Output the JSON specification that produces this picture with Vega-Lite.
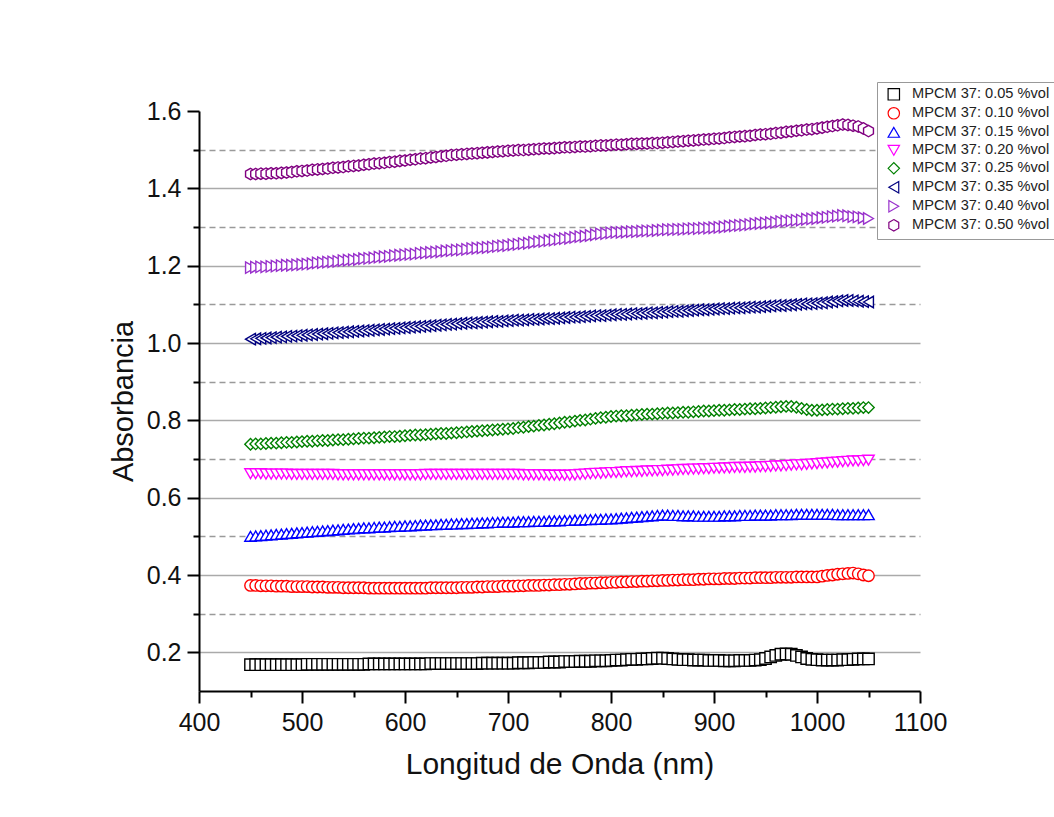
{
  "$schema": "https://vega.github.io/schema/vega-lite/v6.json",
  "width": 721,
  "height": 580,
  "autosize": {"type": "none"},
  "padding": {"left": 199, "top": 111, "right": 134, "bottom": 126},
  "background": "white",
  "config": {"view": {"stroke": null}, "font": "Liberation Sans"},
  "data": {"values": [
    {"x":450,"a":0.168,"b":0.373,"c":0.500,"d":0.662,"e":0.738,"f":1.010,"g":1.195,"h":1.437},
    {"x":455,"a":0.168,"b":0.373,"c":0.501,"d":0.662,"e":0.739,"f":1.011,"g":1.196,"h":1.437},
    {"x":460,"a":0.168,"b":0.372,"c":0.502,"d":0.662,"e":0.739,"f":1.012,"g":1.197,"h":1.438},
    {"x":465,"a":0.168,"b":0.372,"c":0.503,"d":0.661,"e":0.740,"f":1.013,"g":1.197,"h":1.438},
    {"x":470,"a":0.168,"b":0.372,"c":0.504,"d":0.661,"e":0.741,"f":1.014,"g":1.198,"h":1.439},
    {"x":475,"a":0.168,"b":0.371,"c":0.505,"d":0.661,"e":0.741,"f":1.015,"g":1.199,"h":1.439},
    {"x":480,"a":0.168,"b":0.371,"c":0.506,"d":0.661,"e":0.742,"f":1.016,"g":1.200,"h":1.440},
    {"x":485,"a":0.168,"b":0.371,"c":0.507,"d":0.661,"e":0.743,"f":1.017,"g":1.201,"h":1.441},
    {"x":490,"a":0.168,"b":0.370,"c":0.508,"d":0.660,"e":0.743,"f":1.018,"g":1.201,"h":1.442},
    {"x":495,"a":0.168,"b":0.370,"c":0.509,"d":0.660,"e":0.744,"f":1.019,"g":1.202,"h":1.444},
    {"x":500,"a":0.168,"b":0.370,"c":0.510,"d":0.660,"e":0.745,"f":1.020,"g":1.203,"h":1.445},
    {"x":505,"a":0.169,"b":0.370,"c":0.511,"d":0.660,"e":0.746,"f":1.021,"g":1.204,"h":1.446},
    {"x":510,"a":0.169,"b":0.369,"c":0.512,"d":0.660,"e":0.746,"f":1.022,"g":1.205,"h":1.448},
    {"x":515,"a":0.169,"b":0.369,"c":0.513,"d":0.660,"e":0.747,"f":1.023,"g":1.207,"h":1.449},
    {"x":520,"a":0.169,"b":0.369,"c":0.514,"d":0.660,"e":0.748,"f":1.024,"g":1.208,"h":1.450},
    {"x":525,"a":0.169,"b":0.368,"c":0.515,"d":0.660,"e":0.748,"f":1.025,"g":1.209,"h":1.451},
    {"x":530,"a":0.169,"b":0.368,"c":0.516,"d":0.660,"e":0.749,"f":1.026,"g":1.210,"h":1.453},
    {"x":535,"a":0.169,"b":0.368,"c":0.517,"d":0.659,"e":0.750,"f":1.027,"g":1.211,"h":1.454},
    {"x":540,"a":0.169,"b":0.367,"c":0.518,"d":0.659,"e":0.750,"f":1.028,"g":1.213,"h":1.455},
    {"x":545,"a":0.169,"b":0.367,"c":0.519,"d":0.659,"e":0.751,"f":1.029,"g":1.214,"h":1.457},
    {"x":550,"a":0.169,"b":0.367,"c":0.520,"d":0.659,"e":0.752,"f":1.030,"g":1.215,"h":1.458},
    {"x":555,"a":0.169,"b":0.367,"c":0.521,"d":0.659,"e":0.753,"f":1.031,"g":1.216,"h":1.459},
    {"x":560,"a":0.169,"b":0.367,"c":0.522,"d":0.659,"e":0.754,"f":1.032,"g":1.218,"h":1.461},
    {"x":565,"a":0.170,"b":0.366,"c":0.522,"d":0.659,"e":0.754,"f":1.033,"g":1.219,"h":1.462},
    {"x":570,"a":0.170,"b":0.366,"c":0.523,"d":0.659,"e":0.755,"f":1.034,"g":1.220,"h":1.464},
    {"x":575,"a":0.170,"b":0.366,"c":0.524,"d":0.659,"e":0.756,"f":1.035,"g":1.222,"h":1.465},
    {"x":580,"a":0.170,"b":0.366,"c":0.524,"d":0.659,"e":0.757,"f":1.036,"g":1.223,"h":1.466},
    {"x":585,"a":0.170,"b":0.366,"c":0.525,"d":0.659,"e":0.758,"f":1.037,"g":1.224,"h":1.468},
    {"x":590,"a":0.170,"b":0.366,"c":0.526,"d":0.659,"e":0.758,"f":1.038,"g":1.226,"h":1.469},
    {"x":595,"a":0.170,"b":0.366,"c":0.526,"d":0.659,"e":0.759,"f":1.039,"g":1.227,"h":1.471},
    {"x":600,"a":0.170,"b":0.366,"c":0.527,"d":0.659,"e":0.760,"f":1.040,"g":1.228,"h":1.472},
    {"x":605,"a":0.170,"b":0.366,"c":0.527,"d":0.659,"e":0.761,"f":1.041,"g":1.229,"h":1.474},
    {"x":610,"a":0.170,"b":0.366,"c":0.528,"d":0.659,"e":0.762,"f":1.042,"g":1.230,"h":1.475},
    {"x":615,"a":0.170,"b":0.366,"c":0.529,"d":0.659,"e":0.762,"f":1.043,"g":1.232,"h":1.477},
    {"x":620,"a":0.170,"b":0.366,"c":0.529,"d":0.660,"e":0.763,"f":1.044,"g":1.233,"h":1.478},
    {"x":625,"a":0.171,"b":0.367,"c":0.530,"d":0.660,"e":0.764,"f":1.045,"g":1.234,"h":1.480},
    {"x":630,"a":0.171,"b":0.367,"c":0.530,"d":0.660,"e":0.765,"f":1.046,"g":1.235,"h":1.481},
    {"x":635,"a":0.171,"b":0.367,"c":0.531,"d":0.660,"e":0.766,"f":1.047,"g":1.236,"h":1.483},
    {"x":640,"a":0.171,"b":0.367,"c":0.531,"d":0.660,"e":0.766,"f":1.048,"g":1.238,"h":1.484},
    {"x":645,"a":0.171,"b":0.367,"c":0.532,"d":0.660,"e":0.767,"f":1.049,"g":1.239,"h":1.486},
    {"x":650,"a":0.171,"b":0.367,"c":0.532,"d":0.660,"e":0.768,"f":1.050,"g":1.240,"h":1.487},
    {"x":655,"a":0.171,"b":0.368,"c":0.533,"d":0.660,"e":0.769,"f":1.051,"g":1.241,"h":1.488},
    {"x":660,"a":0.171,"b":0.368,"c":0.533,"d":0.660,"e":0.770,"f":1.052,"g":1.242,"h":1.489},
    {"x":665,"a":0.171,"b":0.368,"c":0.534,"d":0.660,"e":0.771,"f":1.052,"g":1.244,"h":1.490},
    {"x":670,"a":0.171,"b":0.369,"c":0.534,"d":0.660,"e":0.772,"f":1.053,"g":1.245,"h":1.491},
    {"x":675,"a":0.172,"b":0.369,"c":0.535,"d":0.660,"e":0.773,"f":1.054,"g":1.246,"h":1.492},
    {"x":680,"a":0.172,"b":0.370,"c":0.535,"d":0.660,"e":0.774,"f":1.055,"g":1.247,"h":1.493},
    {"x":685,"a":0.172,"b":0.370,"c":0.536,"d":0.660,"e":0.775,"f":1.056,"g":1.248,"h":1.494},
    {"x":690,"a":0.172,"b":0.370,"c":0.536,"d":0.660,"e":0.776,"f":1.056,"g":1.250,"h":1.495},
    {"x":695,"a":0.172,"b":0.371,"c":0.537,"d":0.660,"e":0.777,"f":1.057,"g":1.251,"h":1.496},
    {"x":700,"a":0.172,"b":0.371,"c":0.537,"d":0.660,"e":0.778,"f":1.058,"g":1.252,"h":1.497},
    {"x":705,"a":0.172,"b":0.371,"c":0.537,"d":0.660,"e":0.779,"f":1.059,"g":1.254,"h":1.498},
    {"x":710,"a":0.173,"b":0.372,"c":0.538,"d":0.660,"e":0.781,"f":1.059,"g":1.255,"h":1.499},
    {"x":715,"a":0.173,"b":0.372,"c":0.538,"d":0.659,"e":0.782,"f":1.060,"g":1.257,"h":1.499},
    {"x":720,"a":0.173,"b":0.373,"c":0.538,"d":0.659,"e":0.784,"f":1.061,"g":1.258,"h":1.500},
    {"x":725,"a":0.174,"b":0.373,"c":0.539,"d":0.659,"e":0.785,"f":1.061,"g":1.260,"h":1.501},
    {"x":730,"a":0.174,"b":0.373,"c":0.539,"d":0.659,"e":0.787,"f":1.062,"g":1.262,"h":1.502},
    {"x":735,"a":0.174,"b":0.374,"c":0.539,"d":0.659,"e":0.788,"f":1.063,"g":1.263,"h":1.503},
    {"x":740,"a":0.175,"b":0.374,"c":0.540,"d":0.658,"e":0.790,"f":1.063,"g":1.265,"h":1.503},
    {"x":745,"a":0.175,"b":0.375,"c":0.540,"d":0.658,"e":0.791,"f":1.064,"g":1.266,"h":1.504},
    {"x":750,"a":0.175,"b":0.375,"c":0.540,"d":0.658,"e":0.793,"f":1.065,"g":1.268,"h":1.505},
    {"x":755,"a":0.176,"b":0.376,"c":0.541,"d":0.658,"e":0.795,"f":1.066,"g":1.270,"h":1.506},
    {"x":760,"a":0.176,"b":0.376,"c":0.541,"d":0.658,"e":0.796,"f":1.067,"g":1.271,"h":1.506},
    {"x":765,"a":0.176,"b":0.377,"c":0.542,"d":0.659,"e":0.798,"f":1.067,"g":1.273,"h":1.507},
    {"x":770,"a":0.177,"b":0.378,"c":0.542,"d":0.660,"e":0.800,"f":1.068,"g":1.275,"h":1.508},
    {"x":775,"a":0.177,"b":0.378,"c":0.543,"d":0.661,"e":0.801,"f":1.069,"g":1.276,"h":1.508},
    {"x":780,"a":0.177,"b":0.379,"c":0.543,"d":0.662,"e":0.803,"f":1.070,"g":1.278,"h":1.509},
    {"x":785,"a":0.178,"b":0.379,"c":0.544,"d":0.663,"e":0.805,"f":1.071,"g":1.280,"h":1.510},
    {"x":790,"a":0.178,"b":0.380,"c":0.544,"d":0.663,"e":0.807,"f":1.071,"g":1.282,"h":1.511},
    {"x":795,"a":0.178,"b":0.380,"c":0.545,"d":0.664,"e":0.808,"f":1.072,"g":1.283,"h":1.511},
    {"x":800,"a":0.179,"b":0.381,"c":0.545,"d":0.665,"e":0.810,"f":1.073,"g":1.285,"h":1.512},
    {"x":805,"a":0.180,"b":0.381,"c":0.546,"d":0.665,"e":0.811,"f":1.074,"g":1.286,"h":1.513},
    {"x":810,"a":0.180,"b":0.382,"c":0.547,"d":0.666,"e":0.812,"f":1.074,"g":1.286,"h":1.513},
    {"x":815,"a":0.181,"b":0.382,"c":0.548,"d":0.667,"e":0.812,"f":1.075,"g":1.287,"h":1.514},
    {"x":820,"a":0.182,"b":0.383,"c":0.549,"d":0.667,"e":0.813,"f":1.076,"g":1.288,"h":1.515},
    {"x":825,"a":0.182,"b":0.383,"c":0.550,"d":0.668,"e":0.814,"f":1.076,"g":1.288,"h":1.515},
    {"x":830,"a":0.183,"b":0.384,"c":0.551,"d":0.668,"e":0.815,"f":1.077,"g":1.289,"h":1.516},
    {"x":835,"a":0.183,"b":0.384,"c":0.552,"d":0.669,"e":0.816,"f":1.078,"g":1.290,"h":1.516},
    {"x":840,"a":0.184,"b":0.385,"c":0.553,"d":0.669,"e":0.816,"f":1.078,"g":1.290,"h":1.517},
    {"x":845,"a":0.185,"b":0.385,"c":0.554,"d":0.670,"e":0.817,"f":1.079,"g":1.291,"h":1.517},
    {"x":850,"a":0.185,"b":0.386,"c":0.555,"d":0.670,"e":0.818,"f":1.080,"g":1.292,"h":1.518},
    {"x":855,"a":0.184,"b":0.386,"c":0.555,"d":0.671,"e":0.819,"f":1.081,"g":1.293,"h":1.519},
    {"x":860,"a":0.183,"b":0.387,"c":0.554,"d":0.671,"e":0.819,"f":1.082,"g":1.293,"h":1.520},
    {"x":865,"a":0.182,"b":0.387,"c":0.554,"d":0.672,"e":0.820,"f":1.082,"g":1.294,"h":1.521},
    {"x":870,"a":0.181,"b":0.388,"c":0.553,"d":0.673,"e":0.821,"f":1.083,"g":1.294,"h":1.522},
    {"x":875,"a":0.181,"b":0.388,"c":0.553,"d":0.673,"e":0.821,"f":1.084,"g":1.295,"h":1.523},
    {"x":880,"a":0.180,"b":0.388,"c":0.553,"d":0.674,"e":0.822,"f":1.085,"g":1.296,"h":1.524},
    {"x":885,"a":0.180,"b":0.389,"c":0.552,"d":0.674,"e":0.823,"f":1.086,"g":1.296,"h":1.525},
    {"x":890,"a":0.180,"b":0.389,"c":0.552,"d":0.675,"e":0.824,"f":1.086,"g":1.297,"h":1.526},
    {"x":895,"a":0.179,"b":0.390,"c":0.552,"d":0.675,"e":0.824,"f":1.087,"g":1.297,"h":1.527},
    {"x":900,"a":0.179,"b":0.390,"c":0.552,"d":0.676,"e":0.825,"f":1.088,"g":1.298,"h":1.528},
    {"x":905,"a":0.179,"b":0.390,"c":0.552,"d":0.676,"e":0.826,"f":1.089,"g":1.299,"h":1.529},
    {"x":910,"a":0.178,"b":0.391,"c":0.553,"d":0.677,"e":0.826,"f":1.089,"g":1.300,"h":1.530},
    {"x":915,"a":0.178,"b":0.391,"c":0.553,"d":0.677,"e":0.827,"f":1.090,"g":1.302,"h":1.532},
    {"x":920,"a":0.178,"b":0.391,"c":0.553,"d":0.678,"e":0.828,"f":1.091,"g":1.303,"h":1.533},
    {"x":925,"a":0.179,"b":0.392,"c":0.554,"d":0.678,"e":0.828,"f":1.091,"g":1.304,"h":1.534},
    {"x":930,"a":0.179,"b":0.392,"c":0.554,"d":0.678,"e":0.829,"f":1.092,"g":1.305,"h":1.535},
    {"x":935,"a":0.179,"b":0.392,"c":0.554,"d":0.679,"e":0.830,"f":1.093,"g":1.306,"h":1.536},
    {"x":940,"a":0.180,"b":0.393,"c":0.555,"d":0.679,"e":0.830,"f":1.093,"g":1.308,"h":1.538},
    {"x":945,"a":0.181,"b":0.393,"c":0.555,"d":0.680,"e":0.831,"f":1.094,"g":1.309,"h":1.539},
    {"x":950,"a":0.184,"b":0.393,"c":0.555,"d":0.680,"e":0.832,"f":1.095,"g":1.310,"h":1.540},
    {"x":955,"a":0.188,"b":0.393,"c":0.555,"d":0.681,"e":0.833,"f":1.096,"g":1.311,"h":1.541},
    {"x":960,"a":0.192,"b":0.394,"c":0.556,"d":0.682,"e":0.834,"f":1.097,"g":1.312,"h":1.543},
    {"x":965,"a":0.195,"b":0.394,"c":0.556,"d":0.682,"e":0.835,"f":1.097,"g":1.314,"h":1.544},
    {"x":970,"a":0.196,"b":0.394,"c":0.556,"d":0.683,"e":0.836,"f":1.098,"g":1.315,"h":1.546},
    {"x":975,"a":0.195,"b":0.394,"c":0.556,"d":0.684,"e":0.836,"f":1.099,"g":1.316,"h":1.547},
    {"x":980,"a":0.192,"b":0.395,"c":0.557,"d":0.685,"e":0.834,"f":1.100,"g":1.317,"h":1.549},
    {"x":985,"a":0.188,"b":0.395,"c":0.557,"d":0.685,"e":0.831,"f":1.101,"g":1.318,"h":1.550},
    {"x":990,"a":0.184,"b":0.395,"c":0.557,"d":0.686,"e":0.828,"f":1.101,"g":1.320,"h":1.552},
    {"x":995,"a":0.182,"b":0.395,"c":0.557,"d":0.687,"e":0.826,"f":1.102,"g":1.321,"h":1.553},
    {"x":1000,"a":0.181,"b":0.395,"c":0.557,"d":0.688,"e":0.826,"f":1.103,"g":1.322,"h":1.555},
    {"x":1005,"a":0.180,"b":0.397,"c":0.557,"d":0.689,"e":0.827,"f":1.104,"g":1.324,"h":1.557},
    {"x":1010,"a":0.180,"b":0.399,"c":0.557,"d":0.690,"e":0.828,"f":1.106,"g":1.325,"h":1.559},
    {"x":1015,"a":0.180,"b":0.400,"c":0.557,"d":0.691,"e":0.829,"f":1.107,"g":1.327,"h":1.561},
    {"x":1020,"a":0.180,"b":0.402,"c":0.556,"d":0.692,"e":0.829,"f":1.109,"g":1.328,"h":1.563},
    {"x":1025,"a":0.181,"b":0.403,"c":0.556,"d":0.693,"e":0.830,"f":1.110,"g":1.330,"h":1.565},
    {"x":1030,"a":0.181,"b":0.404,"c":0.556,"d":0.694,"e":0.831,"f":1.110,"g":1.329,"h":1.564},
    {"x":1035,"a":0.182,"b":0.405,"c":0.556,"d":0.695,"e":0.831,"f":1.109,"g":1.327,"h":1.562},
    {"x":1040,"a":0.183,"b":0.403,"c":0.556,"d":0.695,"e":0.832,"f":1.108,"g":1.326,"h":1.560},
    {"x":1045,"a":0.183,"b":0.400,"c":0.556,"d":0.696,"e":0.833,"f":1.107,"g":1.324,"h":1.555},
    {"x":1050,"a":0.183,"b":0.398,"c":0.556,"d":0.697,"e":0.833,"f":1.106,"g":1.322,"h":1.548}
  ]},
  "transform": [{"fold": ["a","b","c","d","e","f","g","h"], "as": ["s","y"]}],
  "mark": {"type": "point", "filled": false, "fill": "white", "fillOpacity": 1, "opacity": 1, "strokeWidth": 1.4, "size": 130},
  "encoding": {
    "x": {
      "field": "x", "type": "quantitative",
      "scale": {"domain": [400, 1100], "nice": false, "zero": false},
      "axis": {
        "title": "Longitud de Onda (nm)",
        "values": [400,450,500,550,600,650,700,750,800,850,900,950,1000,1050,1100],
        "format": "d",
        "labelExpr": "datum.value % 100 == 0 ? datum.label : ''",
        "tickSize": {"condition": {"test": "datum.value % 100 != 0", "value": 6}, "value": 12},
        "grid": false,
        "domainColor": "black", "domainWidth": 2,
        "tickColor": "black", "tickWidth": 2,
        "labelFontSize": 25, "labelColor": "#111", "labelPadding": 7,
        "labelFlush": false, "labelOverlap": false,
        "titleFontSize": 30, "titleFontWeight": "normal", "titleColor": "#111", "titlePadding": 14
      }
    },
    "y": {
      "field": "y", "type": "quantitative",
      "scale": {"domain": [0.1, 1.6], "nice": false, "zero": false},
      "axis": {
        "title": "Absorbancia",
        "values": [0.2,0.3,0.4,0.5,0.6,0.7,0.8,0.9,1.0,1.1,1.2,1.3,1.4,1.5,1.6],
        "format": ".1f",
        "labelExpr": "round(datum.value*10) % 2 == 0 ? datum.label : ''",
        "tickSize": {"condition": {"test": "round(datum.value*10) % 2 == 1", "value": 6}, "value": 12},
        "grid": true,
        "gridColor": {"condition": {"test": "round(datum.value*10) % 2 == 1", "value": "#9a9a9a"}, "value": "#aaaaaa"},
        "gridDash": {"condition": {"test": "round(datum.value*10) % 2 == 1", "value": [6, 4]}, "value": []},
        "gridOpacity": {"condition": {"test": "datum.value > 1.55", "value": 0}, "value": 1},
        "gridWidth": 1.3,
        "domainColor": "black", "domainWidth": 2,
        "tickColor": "black", "tickWidth": 2,
        "labelFontSize": 25, "labelColor": "#111", "labelPadding": 6,
        "labelFlush": false, "labelOverlap": false,
        "titleFontSize": 29, "titleFontWeight": "normal", "titleColor": "#111", "titlePadding": 8
      }
    },
    "color": {
      "field": "s", "type": "nominal",
      "scale": {"domain": ["a","b","c","d","e","f","g","h"], "range": ["#000000","#ff0000","#0000ff","#ff00ff","#008000","#000080","#9932cc","#800080"]},
      "legend": {
        "title": null, "orient": "none", "legendX": 678, "legendY": -29,
        "labelExpr": "{'a':'MPCM 37: 0.05 %vol','b':'MPCM 37: 0.10 %vol','c':'MPCM 37: 0.15 %vol','d':'MPCM 37: 0.20 %vol','e':'MPCM 37: 0.25 %vol','f':'MPCM 37: 0.35 %vol','g':'MPCM 37: 0.40 %vol','h':'MPCM 37: 0.50 %vol'}[datum.label]",
        "labelFontSize": 14.6, "labelColor": "#222", "labelOffset": 11,
        "symbolSize": 130, "symbolStrokeWidth": 1.2, "symbolFillColor": "white", "symbolOffset": 4.5,
        "strokeColor": "#999", "fillColor": "white", "padding": 5, "rowPadding": 2
      }
    },
    "shape": {
      "field": "s", "type": "nominal",
      "scale": {"domain": ["a","b","c","d","e","f","g","h"], "range": ["square","circle","triangle-up","triangle-down","diamond","triangle-left","triangle-right","M0,-1L0.866,-0.5L0.866,0.5L0,1L-0.866,0.5L-0.866,-0.5Z"]},
      "legend": {
        "title": null, "orient": "none", "legendX": 678, "legendY": -29,
        "labelExpr": "{'a':'MPCM 37: 0.05 %vol','b':'MPCM 37: 0.10 %vol','c':'MPCM 37: 0.15 %vol','d':'MPCM 37: 0.20 %vol','e':'MPCM 37: 0.25 %vol','f':'MPCM 37: 0.35 %vol','g':'MPCM 37: 0.40 %vol','h':'MPCM 37: 0.50 %vol'}[datum.label]",
        "labelFontSize": 14.6, "labelColor": "#222", "labelOffset": 11,
        "symbolSize": 130, "symbolStrokeWidth": 1.2, "symbolFillColor": "white", "symbolOffset": 4.5,
        "strokeColor": "#999", "fillColor": "white", "padding": 5, "rowPadding": 2
      }
    }
  }
}
